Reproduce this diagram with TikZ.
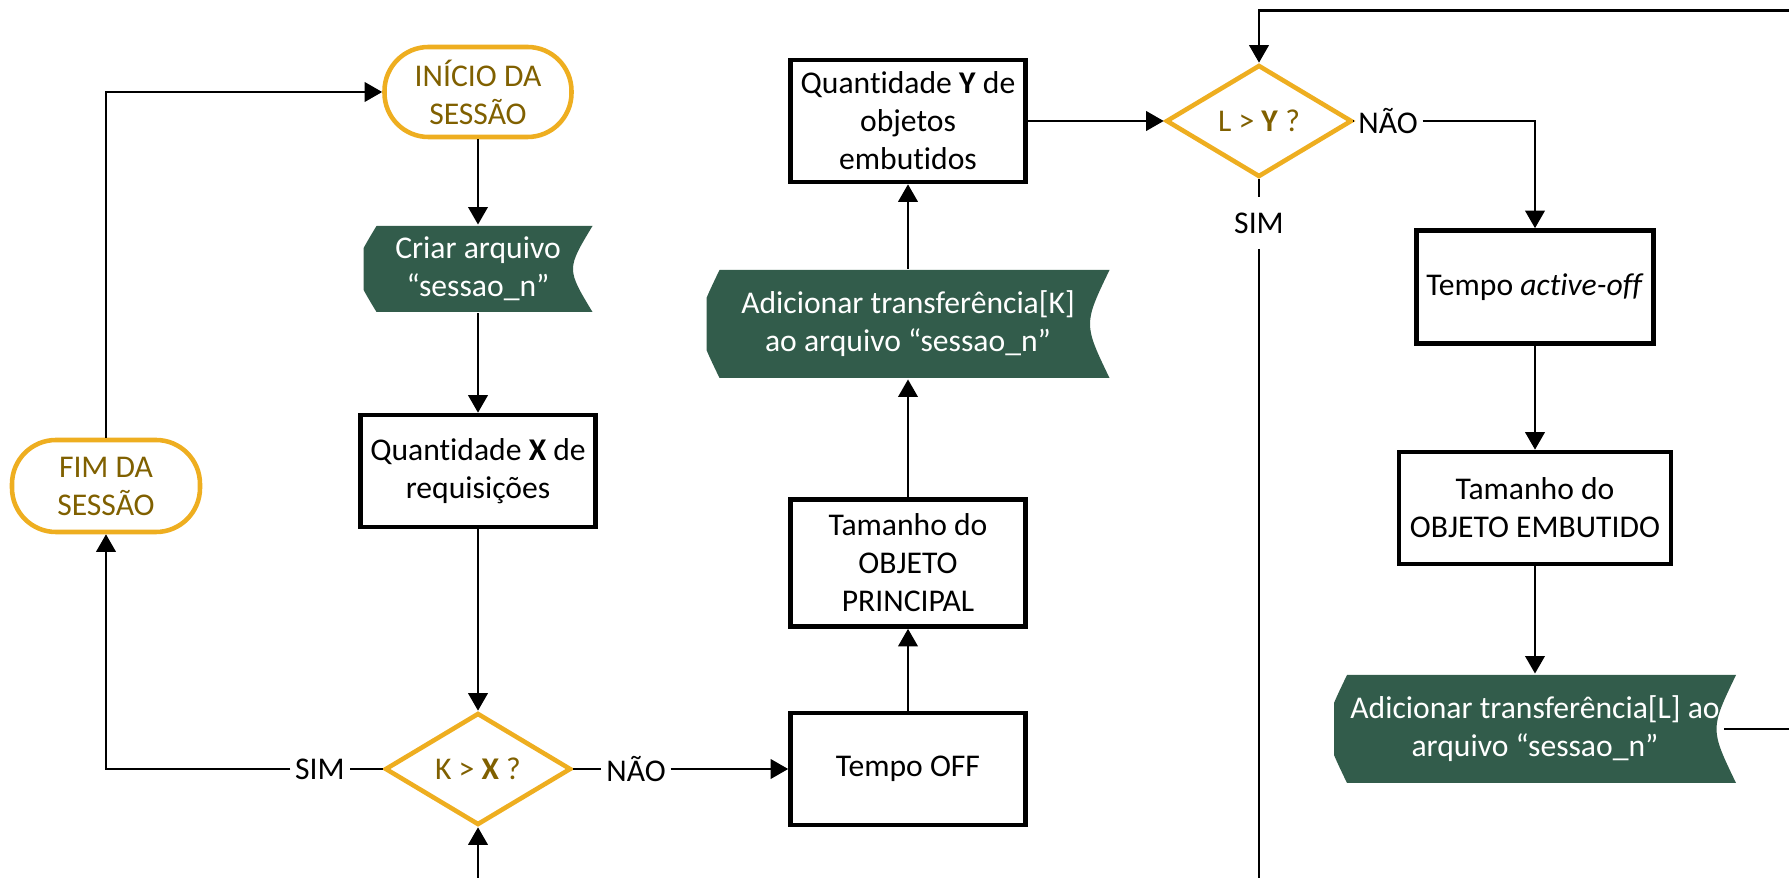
\documentclass[tikz,border=0pt]{standalone}
\usepackage{fontspec}
\setmainfont{Carlito}[Ligatures=NoCommon]
\usepackage{xcolor}
\usepackage{tikz}
\usetikzlibrary{shapes.geometric,arrows.meta}
\definecolor{gold}{RGB}{238,174,32}
\definecolor{darkgold}{RGB}{128,96,0}
\definecolor{dkgreen}{RGB}{50,92,75}
\tikzset{box/.style={rectangle,draw,line width=1.3pt,align=center,inner sep=0pt,minimum width=2.35cm,minimum height=1.12cm}}
\tikzset{term/.style={rectangle,draw=gold,line width=1.3pt,rounded corners=0.44cm,text=darkgold,align=center,inner sep=0pt,minimum width=1.87cm,minimum height=0.9cm}}
\tikzset{dec/.style={diamond,draw=gold,line width=1.3pt,text=darkgold,inner sep=0pt,minimum width=1.86cm,minimum height=1.12cm}}
\tikzset{store/.style={rectangle,text=white,align=center,inner sep=0pt,minimum width=4.02cm,minimum height=1.08cm,
    path picture={\fill[dkgreen] ([xshift=1.3mm]path picture bounding box.north west) -- (path picture bounding box.north east)
      .. controls ([xshift=-2.6mm]path picture bounding box.east) .. (path picture bounding box.south east)
      -- ([xshift=1.3mm]path picture bounding box.south west)
      .. controls ([xshift=-1.3mm]path picture bounding box.west) .. ([xshift=1.3mm]path picture bounding box.north west) -- cycle;}}}
\tikzset{lbl/.style={inner sep=1pt}}

\begin{document}
\begin{tikzpicture}[>={Triangle[length=5pt,width=5.5pt]},line width=0.8pt,font=\fontsize{9}{10.8}\selectfont]
    \useasboundingbox (0,0) rectangle (17.89,-8.78);

    \node[term] (inicio) at (4.78,-0.92) {INÍCIO DA\\SESSÃO};
    \node[store,minimum width=2.29cm,minimum height=0.86cm] (criar) at (4.78,-2.69) {Criar arquivo\\“sessao\_n”};
    \node[box] (qtdx) at (4.78,-4.71) {Quantidade \textbf{X} de\\requisições};
    \node[dec] (kx) at (4.78,-7.69) {K > \textbf{X} ?};
    \node[term,minimum width=1.88cm,minimum height=0.92cm] (fim) at (1.06,-4.86) {FIM DA\\SESSÃO};

    \node[box] (toff) at (9.08,-7.69) {Tempo OFF};
    \node[box,minimum height=1.27cm] (tamp) at (9.08,-5.63) {Tamanho do\\OBJETO\\PRINCIPAL};
    \node[store,minimum width=4.03cm] (addk) at (9.08,-3.24) {Adicionar transferência[K]\\ao arquivo “sessao\_n”};
    \node[box,minimum height=1.22cm] (qtdy) at (9.08,-1.21) {Quantidade \textbf{Y} de\\objetos\\embutidos};

    \node[dec] (ly) at (12.59,-1.21) {L > \textbf{Y} ?};
    \node[box,minimum width=2.37cm,minimum height=1.13cm] (tact) at (15.35,-2.87) {Tempo \textit{active-off}};
    \node[box,minimum width=2.72cm] (tame) at (15.35,-5.08) {Tamanho do\\OBJETO EMBUTIDO};
    \node[store] (addl) at (15.35,-7.29) {Adicionar transferência[L] ao\\arquivo “sessao\_n”};

    \node[lbl] (simx) at (3.20,-7.69) {SIM};
    \node[lbl] (naox) at (6.36,-7.69) {NÃO};
    \node[lbl] (naoy) at (13.88,-1.21) {NÃO};
    \node[lbl,inner ysep=4pt] (simy) at (12.59,-2.23) {SIM};

    \coordinate (topR) at (17.89,-0.107);
    \coordinate (botK) at (4.78,-8.78);
    \coordinate (botL) at (12.59,-8.78);
    \coordinate (rightL) at (17.89,-7.29);

    \draw [->] (inicio) to (criar);
    \draw [->] (criar) to (qtdx);
    \draw [->] (qtdx) to (kx);
    \draw [->] (botK) to (kx);
    \draw [] (kx) to (simx);
    \draw [->] (simx) -| (fim);
    \draw [->] (fim) |- (inicio);
    \draw [] (kx) to (naox);
    \draw [->] (naox) to (toff);
    \draw [->] (toff) to (tamp);
    \draw [->] (tamp) to (addk);
    \draw [->] (addk) to (qtdy);
    \draw [->] (qtdy) to (ly);
    \draw [->] (topR) -| (ly);
    \draw [] (ly) to (naoy);
    \draw [->] (naoy) -| (tact);
    \draw [] (ly) to (simy);
    \draw [] (simy) to (botL);
    \draw [->] (tact) to (tame);
    \draw [->] (tame) to (addl);
    \draw [] ([xshift=-1.3mm]addl.east) to (rightL);
\end{tikzpicture}
\end{document}
